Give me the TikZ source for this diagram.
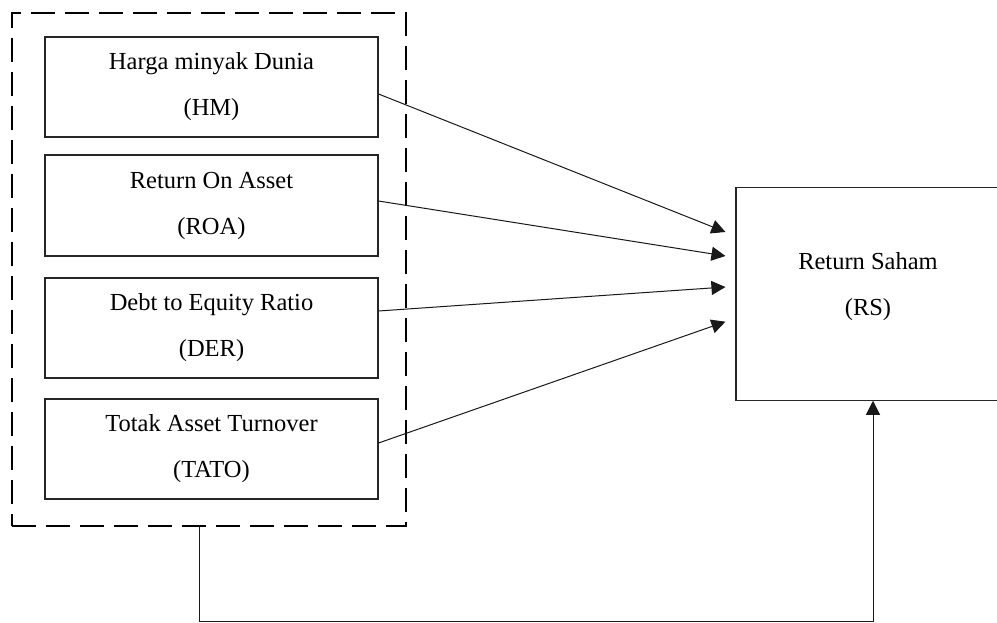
\documentclass[tikz,border=0pt]{standalone}
\usepackage{fontspec}
\setmainfont{Liberation Serif}
\usetikzlibrary{arrows.meta}
\begin{document}
\begin{tikzpicture}[x=1pt,y=-1pt,
  varbox/.style={draw=black!85, line width=1.1pt, minimum width=333pt, minimum height=100pt,
    align=center, inner sep=0pt, font=\fontsize{24.5}{46}\selectfont},
  dashbox/.style={draw=black, line width=2.6pt, dash pattern=on 24pt off 10pt,
    minimum width=394pt, minimum height=513pt, inner sep=0pt},
  rsbox/.style={draw=black!85, line width=1.1pt, minimum width=264pt, minimum height=213pt, inner sep=0pt},
  lbl/.style={align=center, inner sep=0pt, font=\fontsize{24.5}{46}\selectfont},
  conn/.style={draw=black!90, line width=1pt, -{Triangle[length=14pt,width=14pt]}}
]
\clip (0,0) rectangle (997,623);
\fill[white] (0,0) rectangle (997,623);

\node[dashbox] (grp) at (209,269.5) {};
\node[varbox] (hm)   at (211.5,87)    {Harga minyak Dunia\\(HM)};
\node[varbox, minimum height=101pt] (roa)  at (211.5,205.5) {Return On Asset\\(ROA)};
\node[varbox] (der)  at (211.5,328)   {Debt to Equity Ratio\\(DER)};
\node[varbox] (tato) at (211.5,449)   {Totak Asset Turnover\\(TATO)};

\node[rsbox] (rs) at (868,293.7) {};
\node[lbl] (rslbl) at (868,287) {Return Saham\\(RS)};

\draw[conn] ([yshift=-7pt]hm.east)    -- ([xshift=-10pt,yshift=61.7pt]rs.west);
\draw[conn] ([yshift=4.5pt]roa.east)  -- ([xshift=-10pt,yshift=37.7pt]rs.west);
\draw[conn] ([yshift=17pt]der.east)   -- ([xshift=-10pt,yshift=6.7pt]rs.west);
\draw[conn] ([yshift=6pt]tato.east)   -- ([xshift=-10pt,yshift=-28pt]rs.west);

\coordinate (corner) at (199,621);
\draw[conn] ([xshift=-10pt]grp.south) -- (corner) -| ([xshift=5pt]rs.south);
\end{tikzpicture}
\end{document}
